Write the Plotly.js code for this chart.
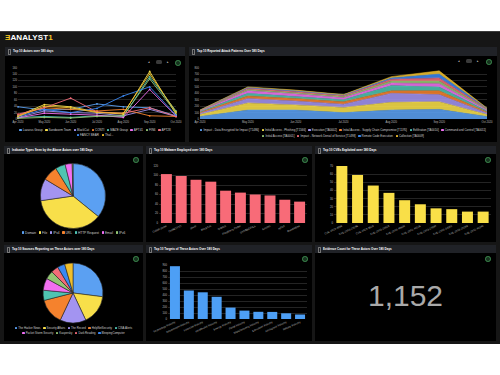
<!DOCTYPE html>
<html><head><meta charset="utf-8">
<script src="https://cdn.plot.ly/plotly-3.0.1.min.js"></script>
<style>
html,body{margin:0;padding:0;background:#fff;width:500px;height:375px;overflow:hidden;font-family:"Liberation Sans",Arial,sans-serif;}
#dash{position:absolute;left:0;top:31px;width:500px;height:313px;background:#161616;border-top:1px solid #3c3c3c;box-sizing:border-box;}
.panel{position:absolute;background:#000;}
.tbar{position:absolute;left:0;top:0;right:0;background:#202227;color:#fff;font-weight:bold;font-size:3px;white-space:nowrap;padding-left:8px;box-sizing:border-box;}
.grip{position:absolute;left:2.5px;width:1.6px;border:0.5px solid #777;border-radius:0.5px;}
.gicon{position:absolute;width:3.6px;height:3.6px;border-radius:50%;background:#17331f;border:0.7px solid #3e8d50;}
.leg{position:absolute;color:#cfcfcf;text-align:center;white-space:nowrap;}
.leg .it{display:inline-block;margin:0 1.3px;}
.leg .sw{display:inline-block;width:2.4px;height:2.4px;margin-right:1px;border-radius:0.4px;vertical-align:middle;}
.chart{position:absolute;}
.ctl{position:absolute;color:#ddd;font-size:3px;}
.ctlbox{position:absolute;width:6px;height:4px;background:#3a3a3a;border-radius:1.5px;}
.logo{position:absolute;left:5px;top:33px;font-size:8px;font-weight:bold;color:#fff;letter-spacing:0.1px;}
</style>
</head><body>
<div id="dash"></div>
<div class="logo"><span style="color:#f3c623">&#x018E;</span>ANALYST<span style="color:#f3c623">1</span></div>

<!-- panels -->
<div class="panel" style="left:5px;top:47px;width:180px;height:95px"><div class="tbar" style="height:9px;line-height:9px">Top 10 Actors over 180 days</div><div class="grip" style="top:2px;height:4px"></div></div>
<div class="panel" style="left:189px;top:47px;width:308px;height:95px"><div class="tbar" style="height:9px;line-height:9px">Top 10 Reported Attack Patterns Over 180 Days</div><div class="grip" style="top:2px;height:4px"></div></div>
<div class="panel" style="left:4px;top:146px;width:139px;height:96px"><div class="tbar" style="height:8px;line-height:8px">Indicator Types Seen by the Above Actors over 180 Days</div><div class="grip" style="top:1.5px;height:4px"></div></div>
<div class="panel" style="left:146px;top:146px;width:166px;height:96px"><div class="tbar" style="height:8px;line-height:8px">Top 10 Malware Employed over 180 Days</div><div class="grip" style="top:1.5px;height:4px"></div></div>
<div class="panel" style="left:315px;top:146px;width:181px;height:96px"><div class="tbar" style="height:8px;line-height:8px">Top 10 CVEs Exploited over 180 Days</div><div class="grip" style="top:1.5px;height:4px"></div></div>
<div class="panel" style="left:4px;top:245px;width:139px;height:96px"><div class="tbar" style="height:8px;line-height:8px">Top 10 Sources Reporting on These Actors over 180 Days</div><div class="grip" style="top:1.5px;height:4px"></div></div>
<div class="panel" style="left:146px;top:245px;width:166px;height:96px"><div class="tbar" style="height:8px;line-height:8px">Top 10 Targets of These Actors Over 180 Days</div><div class="grip" style="top:1.5px;height:4px"></div></div>
<div class="panel" style="left:315px;top:245px;width:181px;height:96px"><div class="tbar" style="height:8px;line-height:8px">Evidence Count for These Actors Over 180 Days</div><div class="grip" style="top:1.5px;height:4px"></div></div>

<!-- icons -->
<div class="gicon" style="left:175px;top:60px"></div>
<div class="gicon" style="left:486px;top:59px"></div>
<div class="gicon" style="left:133px;top:157px"></div>
<div class="gicon" style="left:302px;top:157px"></div>
<div class="gicon" style="left:485px;top:157px"></div>
<div class="gicon" style="left:133px;top:256px"></div>
<div class="gicon" style="left:302px;top:256px"></div>
<div class="gicon" style="left:485px;top:256px"></div>
<div class="ctl" style="left:148px;top:60px">&#9666;</div><div class="ctlbox" style="left:156px;top:60px"></div><div class="ctl" style="left:167px;top:60px">&#9656;</div>
<div class="ctl" style="left:458px;top:59px">&#9666;</div><div class="ctlbox" style="left:466px;top:59px"></div><div class="ctl" style="left:477px;top:59px">&#9656;</div>

<div id="c1" class="chart" style="left:5px;top:56px;width:180px;height:86px"></div>
<div id="c2" class="chart" style="left:189px;top:56px;width:308px;height:86px"></div>
<div id="c3" class="chart" style="left:4px;top:154px;width:139px;height:88px"></div>
<div id="c4" class="chart" style="left:146px;top:154px;width:166px;height:88px"></div>
<div id="c5" class="chart" style="left:315px;top:154px;width:181px;height:88px"></div>
<div id="c6" class="chart" style="left:4px;top:253px;width:139px;height:88px"></div>
<div id="c7" class="chart" style="left:146px;top:253px;width:166px;height:88px"></div>
<div id="c8" class="chart" style="left:315px;top:253px;width:181px;height:88px"></div>

<script>
// ---------- DATA ----------
const months = ["Apr 2020","May 2020","Jun 2020","Jul 2020","Aug 2020","Sep 2020","Oct 2020"];

const actorNames = ["Lazarus Group","Sandworm Team","BlackCat","CONTI","MAZE Group","APT41","FIN6","APT28","FANCY BEAR","Thal..."];
const lazarusGroup = [38, 28, 30, 47, 38, 35, 10];
const sandwormTeam = [10, 45, 38, 22, 15, 148, 15];
const blackCat     = [5, 25, 20, 18, 10, 30, 8];
const conti        = [12, 35, 30, 25, 30, 10, 8];
const mazeGroup    = [5, 8, 5, 10, 8, 132, 25];
const apt41        = [3, 18, 15, 12, 5, 92, 10];
const fin6         = [2, 5, 3, 8, 10, 125, 20];
const apt28        = [15, 35, 65, 22, 18, 35, 8];
const fancyBear    = [8, 30, 20, 33, 72, 100, 12];
const thal         = [8, 40, 35, 20, 18, 140, 22];

const patternNames = ["Impact - Data Encrypted for Impact [T1486]","Initial Access - Phishing [T1566]","Execution [TA0002]","Initial Access - Supply Chain Compromise [T1195]","Exfiltration [TA0010]","Command and Control [TA0011]","Initial Access [TA0001]","Impact - Network Denial of Service [T1498]","Remote Code Execution","Collection [TA0009]"];
const patDataEncrypted = [40, 140, 140, 100, 140, 150, 40];
const patPhishing      = [30, 110, 80, 80, 120, 120, 30];
const patExecution     = [20, 70, 60, 50, 140, 110, 25];
const patSupplyChain   = [15, 40, 40, 40, 40, 60, 15];
const patExfiltration  = [10, 40, 30, 30, 80, 60, 15];
const patC2            = [10, 40, 40, 30, 40, 50, 15];
const patInitialAccess = [5, 20, 20, 20, 30, 40, 10];
const patDoS           = [5, 20, 20, 15, 30, 50, 10];
const patRCE           = [3, 10, 10, 10, 20, 60, 5];
const patCollection    = [2, 10, 10, 5, 20, 50, 5];

const indicatorTypes  = ["Domain","File","IPv4","URL","HTTP Request","Email","IPv6"];
const indicatorCounts = [36, 37, 11, 7.5, 5, 3.5, 0.4];

const malwareNames  = ["Cobalt Strike","CHINOTTO","Sliver","BlackCat","Qakbot","Raspberry Robin","STONEDRILL","Emotet","njRAT","Bumblebee"];
const malwareCounts = [103, 99, 91, 87, 68, 64, 60, 58, 49, 45];

const cveNames  = ["CVE-2023-4966","CVE-2023-20198","CVE-2023-3519","CVE-2023-22515","CVE-2023-46604","CVE-2021-44228","CVE-2023-27997","CVE-2023-34362","CVE-2023-20269","CVE-2022-41040"];
const cveCounts = [70, 59, 46, 37, 28, 23, 18, 17, 14, 14];

const sourceNames  = ["The Hacker News","Security Affairs","The Record","HelpNetSecurity","CISA Alerts","Packet Storm Security","Kaspersky","Dark Reading","BleepingComputer","SecurityWeek"];
const sourceCounts = [27, 16, 14, 14, 5.5, 6.5, 4.5, 4, 4, 4.5];

const targetNames  = ["Technology Industry","Government Industry","Financial Industry","Healthcare Industry","Energy Industry","Retail Industry","Manufacturing Industry","Education Industry","Aerospace Industry","Military Industry"];
const targetCounts = [880, 475, 445, 370, 190, 140, 120, 118, 95, 75];

const evidenceCount = 1152;

// ---------- STYLE ----------
const palette = ["#5ba0f2","#f8df4a","#a394f1","#f5822d","#4fc4b1","#f26ff0","#93c573","#f26b78","#3a88f3","#f0bf2c"];
const tickFont = {family:"Liberation Sans, Arial", size:2.7, color:"#bdbdbd"};
const gridC = "rgba(255,255,255,0.28)";
const cfg = {displayModeBar:false, staticPlot:true};
function baseLayout(w,h,m){
  return {width:w,height:h,margin:m,paper_bgcolor:"rgba(0,0,0,0)",plot_bgcolor:"rgba(0,0,0,0)",showlegend:false,
    font:{family:"Liberation Sans, Arial",size:3,color:"#ccc"}};
}

// ---------- CHART 1: lines ----------
const actorSeries = [lazarusGroup,sandwormTeam,blackCat,conti,mazeGroup,apt41,fin6,apt28,fancyBear,thal];
const t1 = actorSeries.map((s,i)=>({type:"scatter",mode:"lines+markers",x:months,y:s,name:actorNames[i],
  line:{color:palette[i],width:0.9},marker:{color:palette[i],size:1.8},cliponaxis:false}));
const l1 = baseLayout(180,86,{l:13,r:9,t:11,b:23});
l1.xaxis = {type:"category",range:[0,6],tickfont:tickFont,showgrid:false,zeroline:false,ticks:"",automargin:false};
l1.yaxis = {range:[0,162],dtick:20,tickfont:tickFont,gridcolor:gridC,gridwidth:0.5,zeroline:false,ticks:"",automargin:false};
Plotly.newPlot("c1",t1,l1,cfg);

// ---------- CHART 2: stacked area ----------
const patSeries = [patDataEncrypted,patPhishing,patExecution,patSupplyChain,patExfiltration,patC2,patInitialAccess,patDoS,patRCE,patCollection];
function hexA(h,a){const n=parseInt(h.slice(1),16);return `rgba(${n>>16},${(n>>8)&255},${n&255},${a})`;}
const t2 = patSeries.map((s,i)=>({type:"scatter",mode:"lines",x:months,y:s,name:patternNames[i],stackgroup:"one",
  line:{color:palette[i],width:0.5},fillcolor:hexA(palette[i],0.88)}));
const l2 = baseLayout(308,86,{l:11,r:10,t:11,b:23});
l2.xaxis = {type:"category",range:[0,6],tickfont:tickFont,showgrid:false,zeroline:false,ticks:"",automargin:false};
l2.yaxis = {range:[0,810],dtick:100,tickfont:tickFont,gridcolor:gridC,gridwidth:0.5,zeroline:false,ticks:"",automargin:false};
Plotly.newPlot("c2",t2,l2,cfg);

// ---------- CHART 3: pie ----------
Plotly.newPlot("c3",[{type:"pie",labels:indicatorTypes,values:indicatorCounts,sort:false,direction:"clockwise",rotation:0,
  textinfo:"none",marker:{colors:palette.slice(0,7),line:{color:"#2a2a2a",width:0.6}},
  domain:{x:[0.262,0.731],y:[0.153,0.892]}}], baseLayout(139,88,{l:0,r:0,t:0,b:0}), cfg);

// ---------- CHART 6: pie ----------
Plotly.newPlot("c6",[{type:"pie",labels:sourceNames,values:sourceCounts,sort:false,direction:"clockwise",rotation:0,
  textinfo:"none",marker:{colors:palette,line:{color:"#2a2a2a",width:0.6}},
  domain:{x:[0.281,0.712],y:[0.205,0.886]}}], baseLayout(139,88,{l:0,r:0,t:0,b:0}), cfg);

// ---------- BAR CHARTS ----------
function barChart(id,names,vals,color,w,h,m,yr,dt,gap){
  const l = baseLayout(w,h,m);
  l.bargap = gap;
  l.xaxis = {type:"category",tickangle:-25,tickfont:{family:"Liberation Sans, Arial",size:2.7,color:"#bdbdbd"},showgrid:false,zeroline:false,ticks:"",automargin:false};
  l.yaxis = {range:yr,dtick:dt,tickfont:tickFont,gridcolor:gridC,gridwidth:0.5,zeroline:false,ticks:"",automargin:false};
  Plotly.newPlot(id,[{type:"bar",x:names,y:vals,marker:{color:color,line:{width:0}}}],l,cfg);
}
barChart("c4",malwareNames,malwareCounts,"#f86b78",166,88,{l:13,r:5,t:12,b:19},[0,120],20,0.26);
barChart("c5",cveNames,cveCounts,"#f9df48",181,88,{l:19,r:5,t:12,b:19},[0,70],10,0.3);
barChart("c7",targetNames,targetCounts,"#4d9ff5",166,88,{l:22,r:5,t:12,b:22},[0,900],100,0.28);

// ---------- CHART 8: indicator ----------
Plotly.newPlot("c8",[{type:"indicator",mode:"number",value:evidenceCount,
  number:{valueformat:",",font:{family:"Liberation Sans, Arial",size:30,color:"#a9a9a9"}},
  domain:{x:[0,1],y:[0.12,0.92]}}], baseLayout(181,88,{l:0,r:0,t:0,b:0}), cfg);

// ---------- HTML legends built from the data arrays ----------
function legend(names,colors,rows,left,top,width,fs,lh){
  const box=document.createElement("div");box.className="leg";
  box.style.left=left+"px";box.style.top=top+"px";box.style.width=width+"px";box.style.fontSize=fs+"px";box.style.lineHeight=lh+"px";
  let k=0;
  rows.forEach(n=>{const r=document.createElement("div");
    for(let j=0;j<n;j++,k++){const it=document.createElement("span");it.className="it";
      const sw=document.createElement("span");sw.className="sw";sw.style.background=colors[k];
      it.appendChild(sw);it.appendChild(document.createTextNode(names[k]));r.appendChild(it);}
    box.appendChild(r);});
  document.body.appendChild(box);
}
legend(actorNames,palette,[8,2],5,127.5,180,3.0,5.2);
legend(patternNames,palette,[6,4],189,126.5,308,2.9,6);
legend(indicatorTypes,palette,[7],4,230.5,139,3.2,5);
legend(sourceNames.slice(0,9),palette,[5,4],4,325.5,139,2.8,5);
</script>
</body></html>
